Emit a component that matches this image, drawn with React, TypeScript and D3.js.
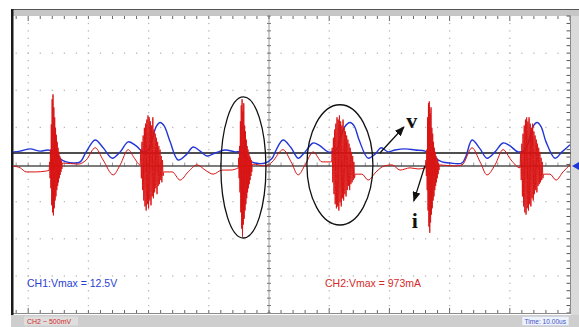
import { useEffect, useRef } from 'react';
import * as d3 from 'd3';

// Time in µs (10 µs/div), values in divisions above each channel's ground marker
const ch1Time = [-2.49, -1.33, 0.33, 1.99, 3.32, 4.15, 4.65, 5.31, 6.31, 7.64, 8.64, 9.63, 11.13, 12.45, 13.95, 15.28, 16.61, 17.93, 19.1, 19.93, 20.59, 21.26, 21.92, 22.58, 23.58, 24.91, 26.24, 27.4, 28.56, 29.72, 31.05, 32.71, 34.37, 35.37, 35.87, 36.53, 37.7, 39.36, 40.52, 41.18, 42.34, 43.67, 44.84, 46.0, 47.33, 48.49, 49.82, 51.15, 51.81, 52.48, 53.47, 54.14, 54.97, 56.46, 57.62, 58.62, 59.78, 60.94, 62.6, 64.26, 65.93, 66.76, 67.59, 68.75, 70.08, 72.07, 72.73, 73.73, 75.06, 76.22, 77.55, 78.88, 80.04, 81.37, 82.54, 83.2, 83.86, 84.53, 85.19, 86.02, 87.51, 88.67, 90.0];
const ch1Value = [0.03, 0.05, 0.11, 0.05, 0.08, 0.03, -0.05, -0.16, -0.24, -0.27, -0.24, 0.03, 0.35, 0.14, -0.14, 0.03, 0.3, 0.19, 0.03, 0.08, 0.35, 0.71, 0.82, 0.73, 0.3, -0.19, -0.05, 0.16, 0.05, -0.08, 0.0, 0.08, 0.03, 0.03, -0.05, -0.19, -0.27, -0.27, -0.14, 0.08, 0.35, 0.14, -0.14, 0.03, 0.27, 0.19, 0.03, 0.08, 0.35, 0.68, 0.82, 0.73, 0.35, -0.14, -0.03, 0.14, 0.03, 0.08, 0.11, 0.08, 0.05, -0.03, -0.14, -0.24, -0.27, -0.27, -0.08, 0.35, 0.11, -0.14, 0.03, 0.27, 0.19, 0.03, 0.08, 0.35, 0.71, 0.82, 0.71, 0.3, -0.14, 0.03, 0.22];

// CH2 current between the ringing bursts
const ch2Time = [-2.49, -1.33, -0.33, 1.16, 2.82, 8.3, 9.63, 11.13, 12.45, 14.12, 15.28, 16.61, 17.6, 23.91, 25.24, 26.57, 28.06, 29.39, 30.72, 32.22, 33.54, 39.52, 40.52, 42.34, 43.67, 44.84, 46.0, 47.33, 48.82, 55.46, 56.46, 57.79, 59.12, 60.45, 61.77, 63.43, 64.76, 70.74, 72.07, 73.73, 75.06, 76.22, 77.55, 78.88, 80.21, 86.68, 87.68, 88.84, 90.0];
const ch2Value = [0, -0.05, -0.16, -0.16, -0.14, 0.05, 0.16, 0.49, 0.16, -0.24, 0.03, 0.44, 0.22, -0.16, -0.38, -0.16, 0.03, -0.11, -0.22, -0.11, -0.11, 0, 0.11, 0.44, 0.11, -0.24, 0.03, 0.38, 0.11, -0.22, -0.38, -0.16, 0, 0.03, -0.11, -0.05, -0.08, 0, 0.03, 0.49, 0.11, -0.24, 0.03, 0.44, 0.16, -0.22, -0.38, -0.16, 0.03];

// CH2 ringing bursts: start time (µs) and sample interval (µs) of each
const burstStart = [3.49, 18.6, 34.9, 50.4, 66.0, 81.7];
const burstStep = [0.07, 0.1, 0.07, 0.1, 0.07, 0.1];
const burstA1 = [-0.11, 0.11, -0.33, 0.44, -0.6, 1.12, -1.06, 1.8, -1.25, 1.93, -1.33, 1.58, -1.14, 1.31, -0.93, 1.03, -0.82, 0.84, -0.65, 0.65, -0.54, 0.49, -0.44, 0.38, -0.33, 0.27, -0.24, 0.22, -0.16, 0.14, -0.08, 0.08];
const burstB1 = [0.03, 0.44, -0.33, 0.65, -0.65, 0.82, -0.93, 1.03, -1.09, 1.14, -1.2, 1.25, -1.03, 1.36, -1.14, 1.31, -0.93, 1.2, -1.06, 1.09, -0.82, 1.31, -0.87, 0.98, -0.71, 0.87, -0.6, 0.76, -0.76, 0.65, -0.54, 0.54, -0.49, 0.44, -0.38, 0.27, -0.44, 0.16, -0.27, -0.16];
const burstA2 = [-0.05, 0.22, -0.33, 0.54, -0.71, 1.2, -1.25, 1.63, -1.69, 1.8, -1.91, 1.47, -1.58, 1.69, -1.42, 1.09, -1.2, 0.93, -1.03, 0.71, -0.87, 0.54, -0.71, 0.44, -0.6, 0.33, -0.49, 0.27, -0.38, 0.22, -0.27, 0.16, -0.16, 0.05];
const burstB2 = [0.11, 0.49, -0.44, 0.76, -0.76, 0.98, -1.03, 1.14, -1.14, 1.31, -1.09, 1.25, -1.2, 1.36, -0.98, 1.2, -1.09, 1.09, -0.87, 1.25, -0.93, 1.03, -0.76, 0.93, -0.82, 0.82, -0.65, 0.71, -0.54, 0.6, -0.65, 0.49, -0.49, 0.38, -0.44, 0.27, -0.38, 0.11, -0.33, -0.22];
const burstA3 = [-0.05, 0.16, -0.27, 0.44, -0.65, 1.31, -1.2, 1.69, -1.63, 1.74, -1.8, 1.42, -1.52, 1.58, -1.31, 1.03, -1.14, 0.87, -0.93, 0.65, -0.82, 0.49, -0.65, 0.38, -0.54, 0.27, -0.44, 0.22, -0.33, 0.16, -0.22, 0.08, -0.11, 0.03];
const burstB3 = [-0.05, 0.38, -0.38, 0.6, -0.82, 0.87, -1.09, 1.09, -1.25, 1.25, -1.31, 1.31, -1.14, 1.2, -1.2, 1.31, -1.03, 1.14, -1.09, 1.03, -0.87, 1.14, -0.93, 0.93, -0.76, 0.82, -0.65, 0.71, -0.71, 0.6, -0.54, 0.49, -0.49, 0.38, -0.44, 0.22, -0.38, 0.11, -0.33, -0.22];
const bursts = [burstA1, burstB1, burstA2, burstB2, burstA3, burstB3];

// ground markers, in divisions from screen centre
const ch1Ground = 0.31;
const ch2Ground = -0.04;

const W = 579;
const H = 327;

export default function App() {
	const svgRef = useRef<SVGSVGElement>(null);

	useEffect(() => {
		if (!svgRef.current) return;
		const svg = d3.select(svgRef.current);
		svg.selectAll('*').remove();

		// plot area
		const left = 13;
		const right = 570.5;
		const top = 16;
		const bottom = 313;

		const x = d3.scaleLinear().domain([0, 90]).range([28.2, 570]);
		const y = d3.scaleLinear().domain([-4, 4]).range([bottom, top]);
		const divX = x(10) - x(0);
		const divY = y(0) - y(1);

		// frame
		svg.append('rect').attr('width', W).attr('height', H).attr('fill', '#fff');
		svg.append('rect').attr('x', 11).attr('y', 9).attr('width', W - 11).attr('height', 7).attr('fill', '#c6c6c6');
		svg.append('line').attr('x1', 11).attr('x2', W).attr('y1', 9.5).attr('y2', 9.5).attr('stroke', '#555');
		svg.append('rect').attr('x', 571).attr('y', 16).attr('width', 8).attr('height', 300).attr('fill', '#dadada');
		svg.append('rect').attr('x', 11).attr('y', 315).attr('width', W - 11).attr('height', 12).attr('fill', '#cecece');

		// grid dots
		const grid = svg.append('g').attr('fill', '#b8b8b8');
		for (let k = 0; k < 9; k++) {
			if (k === 4) continue;
			const gx = x(k * 10);
			for (let gy = top + divY / 5; gy < bottom - 1; gy += divY / 5) {
				grid.append('rect').attr('x', gx - 0.6).attr('y', gy - 0.6).attr('width', 1.3).attr('height', 1.3);
			}
		}
		for (let j = -3; j <= 3; j++) {
			if (j === 0) continue;
			const gy = y(j);
			for (let gx = x(0) - 2 * (divX / 5); gx < right - 2; gx += divX / 5) {
				if (gx < left + 2) continue;
				grid.append('rect').attr('x', gx - 0.6).attr('y', gy - 0.6).attr('width', 1.3).attr('height', 1.3);
			}
		}

		// centre axes and edge ticks
		const ticks = svg.append('g').attr('stroke', '#777').attr('stroke-width', 1);
		ticks.append('line').attr('x1', x(40)).attr('x2', x(40)).attr('y1', top).attr('y2', bottom).attr('stroke', '#9a9a9a');
		for (let gy = top; gy <= bottom + 0.5; gy += divY / 5) {
			ticks.append('line').attr('x1', x(40) - 2).attr('x2', x(40) + 2).attr('y1', gy).attr('y2', gy);
			ticks.append('line').attr('x1', right - 4).attr('x2', right).attr('y1', gy).attr('y2', gy).attr('stroke', '#555');
		}
		for (let gx = x(0) - 2 * (divX / 5); gx < right; gx += divX / 5) {
			if (gx < left + 2) continue;
			const major = Math.abs(((gx - x(0)) / divX) % 1) < 0.01;
			ticks.append('line').attr('x1', gx).attr('x2', gx).attr('y1', top).attr('y2', top + (major ? 5 : 3)).attr('stroke', '#666');
			ticks.append('line').attr('x1', gx).attr('x2', gx).attr('y1', bottom).attr('y2', bottom - (major ? 5 : 3)).attr('stroke', '#666');
			ticks.append('line').attr('x1', gx).attr('x2', gx).attr('y1', y(0) - 2).attr('y2', y(0) + 2).attr('stroke', '#999');
		}
		svg.append('line').attr('x1', right).attr('x2', right).attr('y1', top).attr('y2', bottom + 1).attr('stroke', '#8a8a8a');
		svg.append('line').attr('x1', left).attr('x2', right).attr('y1', bottom + 0.5).attr('y2', bottom + 0.5).attr('stroke', '#8a8a8a');
		svg.append('rect').attr('x', 11).attr('y', 9).attr('width', 2.5).attr('height', 306).attr('fill', '#1a1a1a');

		// ground reference lines
		svg.append('line').attr('x1', left).attr('x2', right).attr('y1', y(ch1Ground)).attr('y2', y(ch1Ground)).attr('stroke', '#151515').attr('stroke-width', 1.6);
		svg.append('line').attr('x1', left).attr('x2', right).attr('y1', y(ch2Ground)).attr('y2', y(ch2Ground)).attr('stroke', '#505050').attr('stroke-width', 1.6);

		svg.append('defs').append('clipPath').attr('id', 'plot')
			.append('rect').attr('x', left).attr('y', top).attr('width', right - left).attr('height', bottom - top);

		// CH2 series: smooth parts plus bursts
		const ch2: [number, number][] = ch2Time.map((t, i) => [t, ch2Value[i]]);
		bursts.forEach((b, k) => b.forEach((v, i) => ch2.push([burstStart[k] + i * burstStep[k], v])));
		ch2.sort((a, b) => a[0] - b[0]);
		const ch1: [number, number][] = ch1Time.map((t, i) => [t, ch1Value[i]]);

		const traces = svg.append('g').attr('clip-path', 'url(#plot)');
		const line1 = d3.line<[number, number]>()
			.x((d) => x(d[0]))
			.y((d) => y(ch1Ground + d[1]))
			.curve(d3.curveCatmullRom.alpha(0.5));
		const line2 = d3.line<[number, number]>()
			.x((d) => x(d[0]))
			.y((d) => y(ch2Ground + d[1]))
			.curve(d3.curveMonotoneX);

		traces.append('path').attr('d', line1(ch1)).attr('fill', 'none').attr('stroke', '#2236d6').attr('stroke-width', 1.4);
		traces.append('path').attr('d', line2(ch2)).attr('fill', 'none').attr('stroke', '#d81414').attr('stroke-width', 1);

		// channel marker on the right edge
		const my = y(ch2Ground);
		svg.append('path').attr('d', `M572,${my} L579,${my - 4} L579,${my + 4} Z`).attr('fill', '#2236d6');

		// annotations
		const ann = svg.append('g').attr('stroke', '#111').attr('fill', 'none').attr('stroke-width', 1.3);
		ann.append('ellipse').attr('cx', x(35.75)).attr('cy', y(-0.08)).attr('rx', x(3.74) - x(0)).attr('ry', y(0) - y(1.9));
		ann.append('ellipse').attr('cx', x(51.78)).attr('cy', y(-0.01)).attr('rx', x(5.48) - x(0)).attr('ry', y(0) - y(1.62));

		svg.select('defs').append('marker')
			.attr('id', 'head').attr('markerUnits', 'userSpaceOnUse')
			.attr('markerWidth', 10).attr('markerHeight', 8).attr('refX', 9).attr('refY', 4)
			.attr('orient', 'auto')
			.append('path').attr('d', 'M0,0 L10,4 L0,8 Z').attr('fill', '#111');
		ann.append('line').attr('x1', x(58.42)).attr('y1', y(0.31)).attr('x2', x(62.41)).attr('y2', y(1.01)).attr('marker-end', 'url(#head)');
		ann.append('line').attr('x1', x(65.89)).attr('y1', y(-0.04)).attr('x2', x(64.06)).attr('y2', y(-0.98)).attr('marker-end', 'url(#head)');

		const serif = "'Liberation Serif', 'DejaVu Serif', serif";
		svg.append('text').attr('x', x(63.73)).attr('y', y(0.98)).attr('text-anchor', 'middle')
			.attr('font-family', serif).attr('font-weight', 'bold').attr('font-size', 22).attr('fill', '#111').text('v');
		svg.append('text').attr('x', x(64.23)).attr('y', y(-1.71)).attr('text-anchor', 'middle')
			.attr('font-family', serif).attr('font-weight', 'bold').attr('font-size', 22).attr('fill', '#111').text('i');

		const sans = "'Liberation Sans', Arial, sans-serif";
		svg.append('text').attr('x', 27).attr('y', 287).attr('font-family', sans).attr('font-size', 10.5).attr('fill', '#2a3fd1').text('CH1:Vmax = 12.5V');
		svg.append('text').attr('x', 325).attr('y', 287).attr('font-family', sans).attr('font-size', 10.5).attr('fill', '#d42a2a').text('CH2:Vmax = 973mA');

		// status bar
		svg.append('rect').attr('x', 24).attr('y', 316.5).attr('width', 54).attr('height', 9).attr('fill', '#dedede');
		svg.append('text').attr('x', 27).attr('y', 323.8).attr('font-family', sans).attr('font-size', 7).attr('fill', '#d42a2a').text('CH2 ~ 500mV');
		svg.append('rect').attr('x', 522).attr('y', 316.5).attr('width', 47).attr('height', 9).attr('fill', '#eef2fa').attr('stroke', '#c8cde0').attr('stroke-width', 0.6);
		svg.append('text').attr('x', 524.5).attr('y', 323.8).attr('font-family', sans).attr('font-size', 6.6).attr('fill', '#3b55c8').text('Time: 10.00us');
	}, []);

	return (
		<div style={{ position: 'absolute', left: 0, top: 0 }}>
			<svg ref={svgRef} width={W} height={H} style={{ display: 'block' }}></svg>
		</div>
	);
}
